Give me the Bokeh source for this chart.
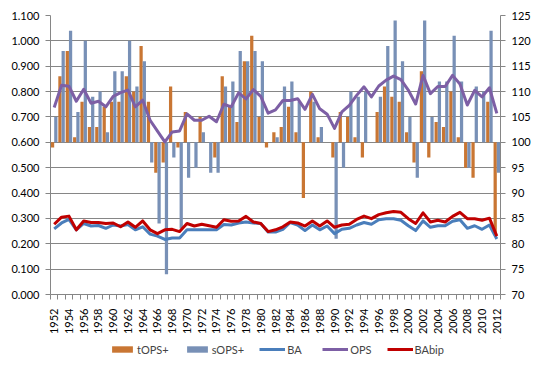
import math
from bokeh.plotting import figure
from bokeh.layouts import column
from bokeh.models import (Range1d, LinearAxis, FixedTicker, NumeralTickFormatter,
                          Legend, LegendItem, ColumnDataSource)
from bokeh.transform import dodge
from bokeh.embed import file_html
from bokeh.resources import INLINE

years = list(range(1952, 2013))

tops_plus = [99, 113, 118, 101, 108, 103, 103, 107, 108, 108, 113, 110, 119, 108, 94,
             96, 111, 99, 106, 100, 105, 100, 97, 113, 107, 104, 116, 121, 105, 99,
             102, 103, 107, 102, 89, 110, 101, 100, 97, 106, 105, 101, 97, 100, 106,
             111, 109, 108, 102, 96, 114, 97, 104, 103, 110, 101, 95, 93, 100, 108, 82]

sops_plus = [105, 118, 122, 106, 120, 109, 110, 102, 114, 114, 120, 111, 116, 96, 84,
             74, 97, 83, 93, 95, 102, 94, 94, 111, 112, 118, 116, 118, 116, 100,
             101, 111, 112, 108, 100, 108, 103, 100, 81, 95, 110, 109, 110, 100, 109,
             119, 124, 116, 105, 93, 124, 105, 112, 112, 121, 112, 95, 111, 110, 122, 94]

ba = [0.259, 0.282, 0.296, 0.255, 0.280, 0.270, 0.272, 0.261, 0.274, 0.270, 0.276, 0.255,
      0.267, 0.238, 0.230, 0.217, 0.223, 0.223, 0.255, 0.255, 0.255, 0.255, 0.255, 0.276,
      0.274, 0.282, 0.286, 0.282, 0.280, 0.246, 0.246, 0.257, 0.284, 0.274, 0.252, 0.274,
      0.255, 0.270, 0.240, 0.257, 0.261, 0.274, 0.284, 0.277, 0.295, 0.299, 0.299, 0.293,
      0.271, 0.252, 0.290, 0.265, 0.271, 0.271, 0.289, 0.295, 0.261, 0.271, 0.257, 0.274,
      0.219]

ops = [0.737, 0.825, 0.821, 0.762, 0.809, 0.754, 0.762, 0.740, 0.781, 0.796, 0.806, 0.740,
       0.766, 0.687, 0.644, 0.602, 0.641, 0.645, 0.712, 0.687, 0.687, 0.703, 0.681, 0.750,
       0.740, 0.795, 0.771, 0.808, 0.781, 0.715, 0.728, 0.765, 0.765, 0.772, 0.730, 0.789,
       0.732, 0.711, 0.655, 0.720, 0.746, 0.785, 0.819, 0.779, 0.822, 0.845, 0.861, 0.847,
       0.806, 0.751, 0.864, 0.792, 0.820, 0.820, 0.864, 0.830, 0.747, 0.805, 0.779, 0.815,
       0.714]

babip = [0.277, 0.305, 0.309, 0.255, 0.290, 0.284, 0.284, 0.280, 0.282, 0.267, 0.286, 0.265,
         0.290, 0.255, 0.240, 0.255, 0.257, 0.248, 0.280, 0.270, 0.277, 0.271, 0.265, 0.295,
         0.289, 0.290, 0.308, 0.286, 0.280, 0.248, 0.255, 0.267, 0.286, 0.282, 0.270, 0.290,
         0.270, 0.290, 0.265, 0.274, 0.277, 0.296, 0.309, 0.299, 0.315, 0.322, 0.327, 0.324,
         0.299, 0.280, 0.322, 0.286, 0.293, 0.286, 0.308, 0.324, 0.299, 0.299, 0.293, 0.301,
         0.230]

left_ticks = [0.0, 0.1, 0.2, 0.3, 0.4, 0.5, 0.6, 0.7, 0.8, 0.9, 1.0, 1.1]
right_ticks = [70, 75, 80, 85, 90, 95, 100, 105, 110, 115, 120, 125]
label_years = [y for y in years if y % 2 == 0]
series_names = ["tOPS+", "sOPS+", "BA", "OPS", "BAbip"]

FONT = "Lato"
GRAY = "#868686"
ORANGE = "#C97633"
BLUE_BAR = "#7890B6"
BA_C = "#4A7EBB"
OPS_C = "#7D5FA5"
BABIP_C = "#C00000"

src = ColumnDataSource(dict(year=years, tops=tops_plus, sops=sops_plus,
                            ba=ba, ops=ops, babip=babip))

p = figure(width=542, height=338, output_backend="svg", toolbar_location=None,
           x_range=Range1d(years[0] - 0.5, years[-1] + 0.5),
           y_range=Range1d(left_ticks[0], left_ticks[-1]),
           min_border_left=50, min_border_right=42, min_border_top=15,
           min_border_bottom=44, outline_line_color=None,
           background_fill_color="white", border_fill_color="white")
p.extra_y_ranges = {"r": Range1d(right_ticks[0], right_ticks[-1])}

# axes
xa = p.xaxis[0]
xa.ticker = FixedTicker(ticks=label_years,
                        minor_ticks=[y - 0.5 for y in years] + [years[-1] + 0.5])
xa.major_tick_out = 0
xa.major_tick_in = 0
xa.minor_tick_out = 5
xa.minor_tick_in = 0
xa.minor_tick_line_color = GRAY
xa.axis_line_color = GRAY
xa.major_label_orientation = math.pi / 2
xa.major_label_standoff = 9
xa.major_label_text_font = FONT
xa.major_label_text_font_size = "11px"
xa.major_label_text_color = "black"

ya = p.yaxis[0]
ya.ticker = FixedTicker(ticks=left_ticks)
ya.formatter = NumeralTickFormatter(format="0.000")
ya.major_tick_out = 5
ya.major_tick_in = 0
ya.minor_tick_out = 0
ya.minor_tick_in = 0
ya.major_tick_line_color = GRAY
ya.axis_line_color = GRAY
ya.major_label_standoff = 6
ya.major_label_text_font = FONT
ya.major_label_text_font_size = "11px"
ya.major_label_text_color = "black"

ra = LinearAxis(y_range_name="r", ticker=FixedTicker(ticks=right_ticks))
ra.major_tick_out = 5
ra.major_tick_in = 0
ra.minor_tick_out = 0
ra.minor_tick_in = 0
ra.major_tick_line_color = GRAY
ra.axis_line_color = GRAY
ra.major_label_standoff = 6
ra.major_label_text_font = FONT
ra.major_label_text_font_size = "11px"
ra.major_label_text_color = "black"
p.add_layout(ra, "right")

p.xgrid.grid_line_color = None
p.ygrid.ticker = FixedTicker(ticks=left_ticks)
p.ygrid.grid_line_color = GRAY
p.ygrid.grid_line_width = 1

# bars (hang from 100 on the secondary axis)
p.vbar(x=dodge("year", -0.22, range=p.x_range), width=0.44, bottom=100, top="tops",
       source=src, y_range_name="r", fill_color=ORANGE, line_color=None)
p.vbar(x=dodge("year", 0.22, range=p.x_range), width=0.44, bottom=100, top="sops",
       source=src, y_range_name="r", fill_color=BLUE_BAR, line_color=None)

# lines
p.line("year", "ba", source=src, line_color=BA_C, line_width=3, line_join="round")
p.line("year", "ops", source=src, line_color=OPS_C, line_width=3, line_join="round")
p.line("year", "babip", source=src, line_color=BABIP_C, line_width=3, line_join="round")

# legend strip below the chart (swatch renderers sit outside the visible range)
lg = figure(width=542, height=32, output_backend="svg", toolbar_location=None,
            x_range=Range1d(0, 1), y_range=Range1d(0, 1), min_border=0,
            x_axis_location=None, y_axis_location=None,
            outline_line_color=None, background_fill_color="white",
            border_fill_color="white")
lg.grid.visible = False
swatch = ColumnDataSource(dict(x=[5, 6], y=[5, 6], top=[5, 6]))
l_t = lg.vbar(x="x", top="top", bottom=4, width=0.1, source=swatch,
              fill_color=ORANGE, line_color=None)
l_s = lg.vbar(x="x", top="top", bottom=4, width=0.1, source=swatch,
              fill_color=BLUE_BAR, line_color=None)
l_ba = lg.line("x", "y", source=swatch, line_color=BA_C, line_width=3)
l_ops = lg.line("x", "y", source=swatch, line_color=OPS_C, line_width=3)
l_bb = lg.line("x", "y", source=swatch, line_color=BABIP_C, line_width=3)

legend = Legend(items=[LegendItem(label=n, renderers=[r]) for n, r in
                       zip(series_names, [l_t, l_s, l_ba, l_ops, l_bb])],
                orientation="horizontal", location=(59, 14),
                border_line_color=None, background_fill_alpha=0,
                label_text_font=FONT, label_text_font_size="11px",
                label_height=14, glyph_width=26, glyph_height=8,
                label_standoff=2, spacing=15, padding=0, margin=0)
lg.add_layout(legend, "center")

layout = column(p, lg, spacing=0)

open("out.html", "w").write(file_html(layout, INLINE))
